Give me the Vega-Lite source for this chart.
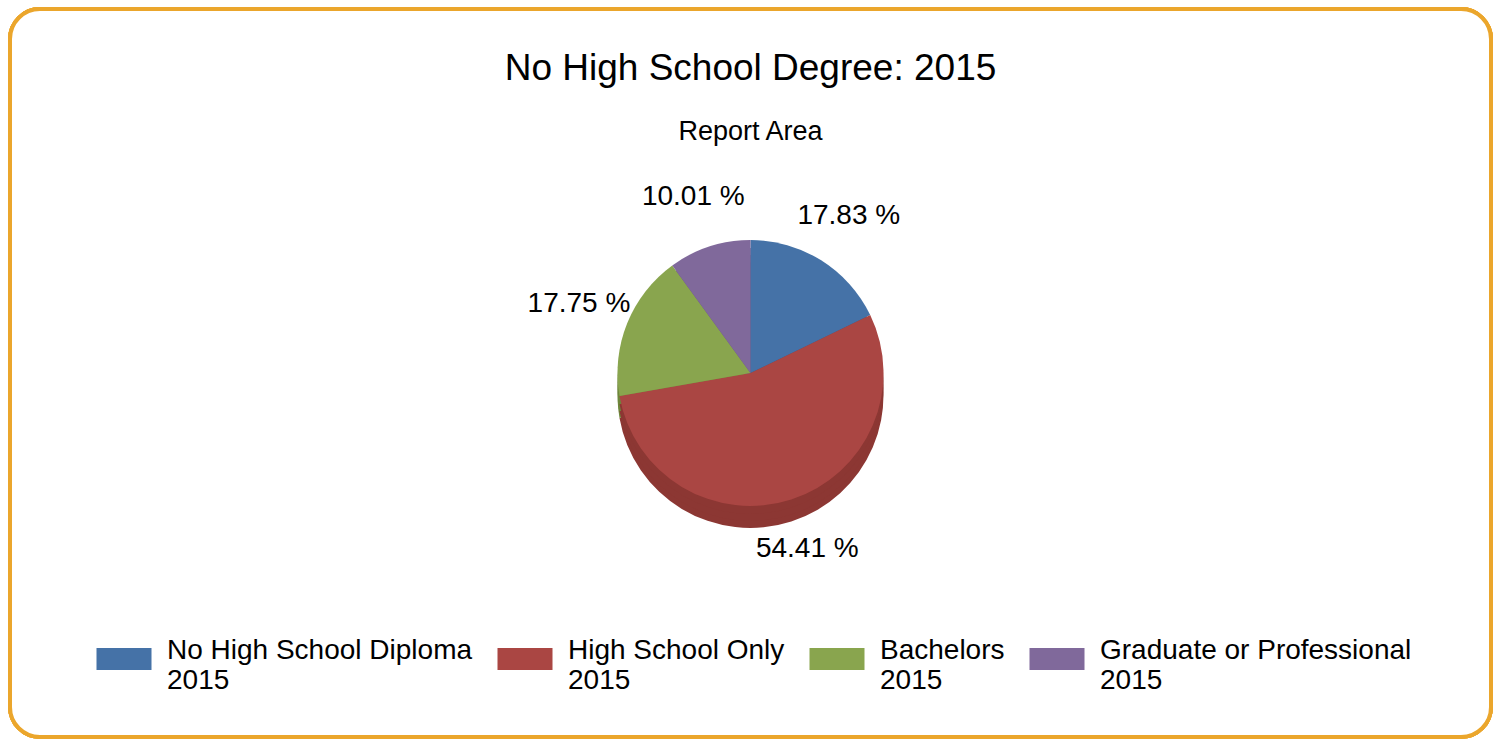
{
  "$schema": "https://vega.github.io/schema/vega-lite/v6.json",
  "width": 1481,
  "height": 728,
  "autosize": {"type": "none"},
  "padding": {"left": 10, "top": 9, "right": 5, "bottom": 5},
  "background": "white",
  "config": {
    "view": {"stroke": null},
    "font": "Liberation Sans"
  },
  "title": {
    "text": "No High School Degree: 2015",
    "subtitle": "Report Area",
    "fontSize": 37,
    "fontWeight": "normal",
    "font": "Liberation Sans",
    "subtitleFont": "Liberation Sans",
    "subtitleFontSize": 27,
    "subtitlePadding": 31,
    "color": "black",
    "subtitleColor": "black",
    "anchor": "middle",
    "offset": -139
  },
  "data": {
    "values": [
      {"category": "No High School Diploma", "value": 17.83, "label": "17.83 %", "seq": 1},
      {"category": "High School Only", "value": 54.41, "label": "54.41 %", "seq": 2},
      {"category": "Bachelors", "value": 17.75, "label": "17.75 %", "seq": 3},
      {"category": "Graduate or Professional", "value": 10.01, "label": "10.01 %", "seq": 4}
    ]
  },
  "layer": [
    {
      "mark": {"type": "rect", "fill": "white", "stroke": "#EBA62C", "strokeWidth": 4, "cornerRadius": 30},
      "encoding": {}
    },
    {
      "mark": {"type": "arc", "radius": 133, "yOffset": 22, "stroke": null},
      "encoding": {
        "theta": {"field": "value", "type": "quantitative", "stack": true},
        "order": {"field": "seq", "type": "quantitative"},
        "color": {
          "field": "category", "type": "nominal", "legend": null,
          "scale": {"domain": ["No High School Diploma", "High School Only", "Bachelors", "Graduate or Professional"], "range": ["#35598A", "#8C3733", "#6E873C", "#66537F"]}
        }
      }
    },
    {
      "mark": {"type": "arc", "radius": 133, "yOffset": 15, "stroke": null},
      "encoding": {
        "theta": {"field": "value", "type": "quantitative", "stack": true},
        "order": {"field": "seq", "type": "quantitative"},
        "color": {
          "field": "category", "type": "nominal", "legend": null,
          "scale": {"domain": ["No High School Diploma", "High School Only", "Bachelors", "Graduate or Professional"], "range": ["#35598A", "#8C3733", "#6E873C", "#66537F"]}
        }
      }
    },
    {
      "mark": {"type": "arc", "radius": 133, "yOffset": 8, "stroke": null},
      "encoding": {
        "theta": {"field": "value", "type": "quantitative", "stack": true},
        "order": {"field": "seq", "type": "quantitative"},
        "color": {
          "field": "category", "type": "nominal", "legend": null,
          "scale": {"domain": ["No High School Diploma", "High School Only", "Bachelors", "Graduate or Professional"], "range": ["#35598A", "#8C3733", "#6E873C", "#66537F"]}
        }
      }
    },
    {
      "mark": {"type": "arc", "radius": 133, "stroke": null},
      "encoding": {
        "theta": {"field": "value", "type": "quantitative", "stack": true},
        "order": {"field": "seq", "type": "quantitative"},
        "color": {
          "field": "category", "type": "nominal",
          "scale": {"domain": ["No High School Diploma", "High School Only", "Bachelors", "Graduate or Professional"], "range": ["#4572A7", "#AA4643", "#89A54E", "#80699B"]},
          "legend": {
            "orient": "none",
            "legendX": 92,
            "legendY": 628,
            "direction": "horizontal",
            "title": null,
            "symbolType": "M-1.25,-0.5H1.25V0.5H-1.25Z",
            "symbolSize": 1936,
            "symbolStrokeWidth": 0,
            "symbolOpacity": 1,
            "labelFontSize": 28,
            "labelFont": "Liberation Sans",
            "labelColor": "black",
            "labelLimit": 0,
            "labelOffset": 21,
            "labelBaseline": "alphabetic",
            "columnPadding": 24,
            "labelExpr": "[datum.label, '2015']"
          }
        }
      }
    },
    {
      "mark": {"type": "text", "radius": 185, "fontSize": 28, "font": "Liberation Sans", "color": "black"},
      "encoding": {
        "theta": {"field": "value", "type": "quantitative", "stack": true},
        "order": {"field": "seq", "type": "quantitative"},
        "text": {"field": "label", "type": "nominal"}
      }
    }
  ],
  "resolve": {"scale": {"color": "independent"}}
}
